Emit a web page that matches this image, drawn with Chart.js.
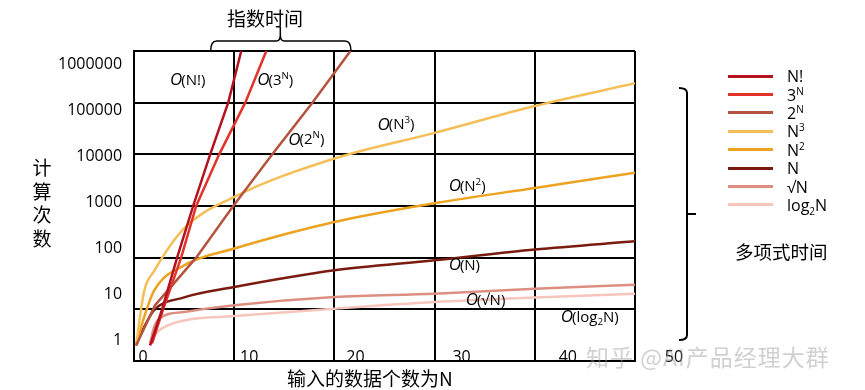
<!DOCTYPE html>
<html>
<head>
<meta charset="utf-8">
<script src="https://cdn.jsdelivr.net/npm/chart.js@4"></script>
<style>
    body { margin: 0; background: #fff; }
    #wrap { position: relative; width: 865px; height: 390px; overflow: hidden; font-family: "Open Sans", "Noto Sans CJK SC", sans-serif; color: #000; }
    #chart { position: absolute; left: 0; top: 0; }
    .cjk { position: absolute; font-family: "Noto Sans CJK SC", sans-serif; white-space: nowrap; }
    #topTitle { left: 227px; top: 5px; font-size: 19px; line-height: 26px; }
    #yTitle { left: 32px; top: 155px; width: 20px; font-size: 19px; line-height: 23.5px; text-align: center; }
    #xTitle { left: 287px; top: 365px; font-size: 19px; line-height: 26px; }
    #polyTitle { left: 735px; top: 238px; font-size: 18.5px; line-height: 26px; }
    #legend { position: absolute; left: 728px; top: 67px; }
    .row { height: 18.4px; display: flex; align-items: center; font-size: 16px; }
    .row .swatch { width: 45px; height: 3px; margin-right: 14px; }
    .row sup, .row sub { font-size: 10px; line-height: 0; }
    #mark { position: absolute; left: 586px; top: 340px; font-family: "Noto Sans CJK SC", sans-serif; font-size: 23px; line-height: 32px; letter-spacing: 1px; color: rgba(150, 150, 150, 0.45); white-space: nowrap; }
</style>
</head>
<body>
<div id="wrap">
    <canvas id="chart" width="865" height="390"></canvas>
    <div class="cjk" id="topTitle">指数时间</div>
    <div class="cjk" id="yTitle">计<br>算<br>次<br>数</div>
    <div class="cjk" id="xTitle">输入的数据个数为N</div>
    <div class="cjk" id="polyTitle">多项式时间</div>
    <div id="legend"></div>
    <div id="mark">知乎 @AI产品经理大群</div>
</div>
<script>
// axis ticks
const xTicks = [0, 10, 20, 30, 40, 50];
const yTicks = [1, 10, 100, 1000, 10000, 100000, 1000000];

// exponential curves (read where they cross the grid lines)
const factorialN = [1.6, 2.8, 4.3, 5.9, 7.6, 9.4, 10.7];
const factorialOps = [2, 10, 100, 1000, 10000, 100000, 1000000];
const pow3N = [1.8, 2.9, 4.7, 6.2, 8.5, 11.1, 13.2];
const pow3Ops = [2.2, 10, 100, 1000, 10000, 100000, 1000000];
const pow2N = [0.2, 2.1, 6.2, 9.9, 13.8, 17.8, 21.6];
const pow2Ops = [2, 12, 100, 1000, 10000, 100000, 1000000];

// polynomial curves
const polyN = [0.2, 1, 2, 5, 10, 20, 30, 40, 50];
const cubeOps = [2, 22, 55, 370, 1500, 8300, 26000, 86000, 237000];
const squareOps = [2, 7, 23, 71, 150, 490, 1130, 2240, 4380];
const linearOps = [2, 4.5, 9.6, 17, 27, 57, 89, 144, 208];

// sub-linear curves
const smallN = [1.6, 2, 2.5, 5, 10, 20, 30, 40, 50];
const sqrtOps = [2.2, 4.5, 6.6, 8.9, 12, 17.3, 20, 25, 30];
const logOps = [2, 3, 3.9, 6.1, 7.4, 10.3, 13.8, 16.9, 20];

const seriesNames = ["N!", "3^N", "2^N", "N^3", "N^2", "N", "√N", "log_2N"];
const seriesColors = ["#b3121f", "#e0332a", "#b4533f", "#f4bf58", "#eca322", "#7a1b10", "#dc8f80", "#f6c6bd"];

// curve labels, placed in data space
const notes = [
    { text: "O(N!)", n: 3.6, ops: 2.7e5 },
    { text: "O(3^N)", n: 12.3, ops: 2.7e5 },
    { text: "O(2^N)", n: 15.4, ops: 1.9e4 },
    { text: "O(N^3)", n: 24.3, ops: 3.7e4 },
    { text: "O(N^2)", n: 31.4, ops: 2400 },
    { text: "O(N)", n: 31.4, ops: 71 },
    { text: "O(√N)", n: 33.1, ops: 15 },
    { text: "O(log_2N)", n: 42.6, ops: 7 }
];

function toPoints(xs, ys) {
    return xs.map((n, i) => ({ x: n, y: ys[i] }));
}

function toHtml(label) {
    return label.replace(/\^(.)/g, "<sup>$1</sup>").replace(/_(.)/g, "<sub>$1</sub>");
}

function drawRich(ctx, str, x, y, size) {
    ctx.textAlign = "left";
    ctx.textBaseline = "middle";
    ctx.font = "italic " + (size + 2) + "px 'Open Sans'";
    ctx.fillText(str[0], x, y);
    x += ctx.measureText(str[0]).width - 1;
    for (let i = 1; i < str.length; i++) {
        let ch = str[i];
        let dy = 0;
        let s = size;
        if (ch === "^" || ch === "_") {
            dy = ch === "^" ? -size * 0.3 : size * 0.3;
            s = size * 0.65;
            ch = str[++i];
        }
        ctx.font = s + "px 'Open Sans'";
        ctx.fillText(ch, x, y + dy);
        x += ctx.measureText(ch).width;
    }
}

const datasetPairs = [
    [factorialN, factorialOps],
    [pow3N, pow3Ops],
    [pow2N, pow2Ops],
    [polyN, cubeOps],
    [polyN, squareOps],
    [polyN, linearOps],
    [smallN, sqrtOps],
    [smallN, logOps]
];

const datasets = datasetPairs.map((pair, i) => ({
    label: seriesNames[i],
    data: toPoints(pair[0], pair[1]),
    borderColor: seriesColors[i],
    borderWidth: 2.5,
    pointRadius: 0,
    fill: false,
    cubicInterpolationMode: i > 2 ? "monotone" : "default",
    tension: 0,
    xAxisID: "x",
    yAxisID: "y"
}));

const extras = {
    id: "extras",
    afterDraw(chart) {
        const ctx = chart.ctx;
        const xs = chart.scales.x;
        const ys = chart.scales.y;
        const area = chart.chartArea;

        ctx.save();
        ctx.fillStyle = "#000";

        // x tick labels sit on the bottom line, drifting right as in the original
        ctx.font = "16px 'Open Sans'";
        ctx.textAlign = "center";
        ctx.textBaseline = "middle";
        xTicks.forEach(v => {
            ctx.fillText(String(v), xs.getPixelForValue(v) + 9 + v * 0.6, area.bottom - 4);
        });

        notes.forEach(note => {
            drawRich(ctx, note.text, xs.getPixelForValue(note.n), ys.getPixelForValue(note.ops), 15);
        });

        // brace over the exponential curves
        ctx.strokeStyle = "#000";
        ctx.lineWidth = 1.5;
        const left = xs.getPixelForValue(7.65);
        const right = xs.getPixelForValue(21.65);
        const mid = xs.getPixelForValue(14.6);
        const top = area.top;
        ctx.beginPath();
        ctx.moveTo(left, top);
        ctx.quadraticCurveTo(left, top - 10, left + 6, top - 10);
        ctx.lineTo(mid - 4, top - 10);
        ctx.quadraticCurveTo(mid, top - 10, mid, top - 16);
        ctx.lineTo(mid, top - 24);
        ctx.moveTo(right, top);
        ctx.quadraticCurveTo(right, top - 10, right - 6, top - 10);
        ctx.lineTo(mid + 4, top - 10);
        ctx.quadraticCurveTo(mid, top - 10, mid, top - 16);
        ctx.stroke();

        // brace beside the polynomial curves
        const bx = area.right + 52;
        const y0 = area.top + 37;
        const y1 = area.bottom - 21;
        const ym = (y0 + y1) / 2;
        ctx.lineWidth = 2;
        ctx.beginPath();
        ctx.moveTo(bx - 8, y0);
        ctx.quadraticCurveTo(bx, y0, bx, y0 + 5);
        ctx.lineTo(bx, y1 - 5);
        ctx.quadraticCurveTo(bx, y1, bx - 8, y1);
        ctx.moveTo(bx, ym);
        ctx.lineTo(bx + 9, ym);
        ctx.stroke();
        ctx.restore();
    }
};

const legendBox = document.getElementById("legend");
seriesNames.forEach((name, i) => {
    legendBox.innerHTML += `
        <div class="row">
            <span class="swatch" style="background:${seriesColors[i]}"></span>
            <span>${toHtml(name)}</span>
        </div>
    `;
});

const tickFont = { family: "'Open Sans'", size: 16 };

new Chart(document.getElementById("chart"), {
    type: "line",
    data: { datasets: datasets },
    plugins: [extras],
    options: {
        responsive: false,
        animation: false,
        events: [],
        layout: {
            padding: { left: 46, right: 230, top: 51, bottom: 29 }
        },
        plugins: {
            legend: { display: false },
            tooltip: { enabled: false }
        },
        scales: {
            x: {
                type: "linear",
                min: 0,
                max: 50,
                afterBuildTicks: axis => { axis.ticks = xTicks.map(v => ({ value: v })); },
                grid: { color: "#000", lineWidth: 2, drawTicks: false },
                border: { color: "#000", width: 2 },
                ticks: { display: false }
            },
            y: {
                type: "logarithmic",
                position: "left",
                min: 1,
                max: 1000000,
                afterBuildTicks: axis => { axis.ticks = yTicks.map(v => ({ value: v })); },
                grid: { color: "#000", lineWidth: 2, drawTicks: false },
                border: { color: "#000", width: 2 },
                ticks: { display: false }
            },
            yText: {
                type: "logarithmic",
                position: "left",
                min: 0.356,
                max: 1920000,
                afterBuildTicks: axis => { axis.ticks = yTicks.map(v => ({ value: v })); },
                grid: { display: false, drawTicks: false },
                border: { display: false },
                ticks: { font: tickFont, color: "#000", padding: 12, callback: v => String(v) }
            }
        }
    }
});
</script>
</body>
</html>
